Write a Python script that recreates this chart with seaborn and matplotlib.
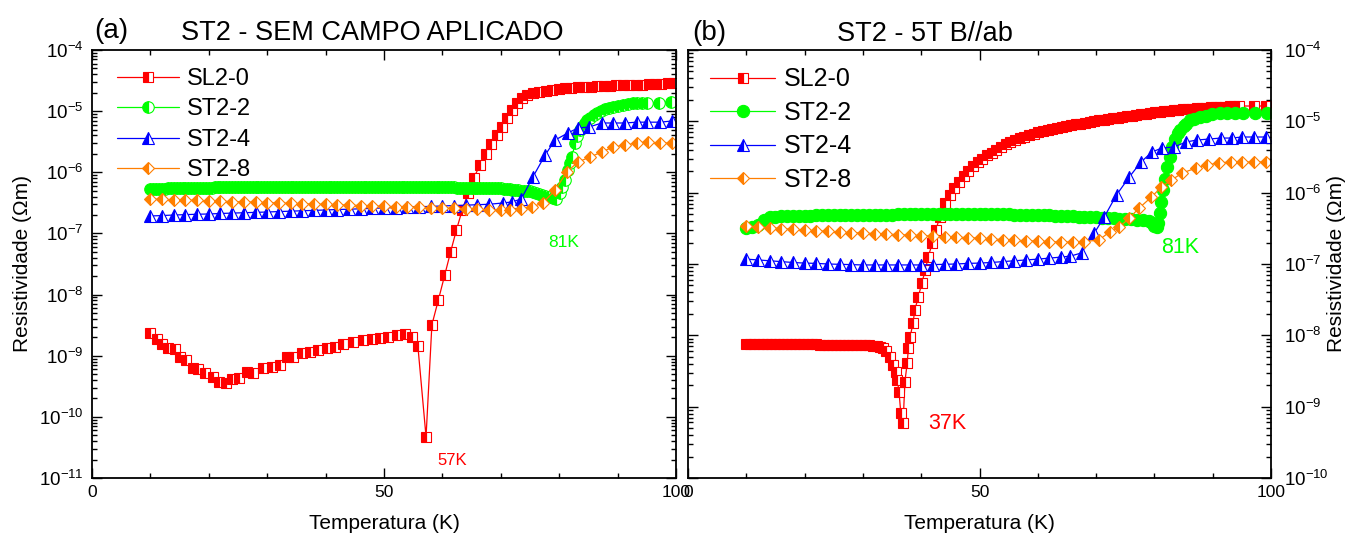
import numpy as np
import pandas as pd
import matplotlib
matplotlib.use("Agg")
import matplotlib.pyplot as plt
import seaborn as sns
from matplotlib.ticker import FixedLocator, LogLocator, MultipleLocator, NullFormatter

sns.set_theme(style="ticks")
plt.rcParams["font.family"] = ["Liberation Sans", "DejaVu Sans"]
plt.rcParams["mathtext.fontset"] = "custom"
plt.rcParams["mathtext.rm"] = "Liberation Sans"
plt.rcParams["mathtext.it"] = "Liberation Sans:italic"
plt.rcParams["mathtext.default"] = "regular"
for key in ("text.color", "axes.labelcolor", "xtick.color", "ytick.color", "axes.edgecolor"):
    plt.rcParams[key] = "black"

# ---------------- (a) no applied field ----------------
a_sl20_T = [9.9, 11.1, 12.0, 13.0, 14.2, 15.1, 16.1, 17.3, 18.2, 19.3, 20.7, 21.8, 22.9,
            24.0, 25.2, 26.5, 27.6, 29.3, 30.8, 32.2, 33.4, 34.4, 35.9, 37.3, 38.7, 40.2,
            41.6, 43.0, 44.7, 46.4, 47.9, 49.3, 50.7, 52.2, 53.6, 54.8, 55.8, 57.2, 58.2,
            59.3, 60.4, 61.4, 62.4, 63.4, 64.4, 65.4, 66.4, 67.4, 68.4, 69.3, 70.2, 71.1,
            71.9, 72.8, 73.6, 74.5, 75.5, 76.6, 77.7, 78.8, 79.9, 81.0, 82.1, 83.2, 84.3,
            85.4, 86.5, 87.6, 88.7, 89.8, 90.9, 92.0, 93.1, 94.2, 95.3, 96.4, 97.5, 98.6, 99.7]
a_sl20_rho = [2.35e-9, 1.87e-9, 1.55e-9, 1.34e-9, 1.29e-9, 9.5e-10, 8.5e-10, 6.3e-10, 6.1e-10,
              5.2e-10, 4.5e-10, 3.7e-10, 3.6e-10, 4.2e-10, 4.3e-10, 5.4e-10, 5.2e-10, 6.3e-10,
              6.5e-10, 7.0e-10, 9.5e-10, 9.5e-10, 1.11e-9, 1.15e-9, 1.24e-9, 1.34e-9, 1.39e-9,
              1.55e-9, 1.67e-9, 1.81e-9, 1.87e-9, 1.95e-9, 2.02e-9, 2.18e-9, 2.27e-9, 2.02e-9,
              1.44e-9, 4.7e-11, 3.2e-9, 8.1e-9, 2.09e-8, 4.97e-8, 1.14e-7, 2.42e-7, 4.58e-7,
              8.1e-7, 1.31e-6, 1.99e-6, 2.9e-6, 4.07e-6, 5.5e-6, 7.7e-6, 1.04e-5, 1.36e-5,
              1.64e-5, 1.84e-5, 1.98e-5, 2.08e-5, 2.16e-5, 2.23e-5, 2.29e-5, 2.36e-5, 2.40e-5,
              2.44e-5, 2.48e-5, 2.52e-5, 2.55e-5, 2.58e-5, 2.61e-5, 2.63e-5, 2.65e-5, 2.67e-5,
              2.69e-5, 2.72e-5, 2.75e-5, 2.78e-5, 2.81e-5, 2.85e-5, 2.89e-5]

a_st22_T = [10.0, 10.5, 11.0, 11.5, 12.0, 12.5, 13.0, 13.5, 14.0, 14.5, 15.0, 15.5, 16.0,
            16.5, 17.0, 17.5, 18.0, 18.5, 19.0, 19.5, 20.0, 20.5, 21.0, 21.5, 22.0, 22.5,
            23.0, 23.5, 24.0, 24.5, 25.0, 25.5, 26.0, 26.5, 27.0, 27.5, 28.0, 28.5, 29.0,
            29.5, 30.0, 30.5, 31.0, 31.5, 32.0, 32.5, 33.0, 33.5, 34.0, 34.5, 35.0, 35.5,
            36.0, 36.5, 37.0, 37.5, 38.0, 38.5, 39.0, 39.5, 40.0, 40.5, 41.0, 41.5, 42.0,
            42.5, 43.0, 43.5, 44.0, 44.5, 45.0, 45.5, 46.0, 46.5, 47.0, 47.5, 48.0, 48.5,
            49.0, 49.5, 50.0, 50.5, 51.0, 51.5, 52.0, 52.5, 53.0, 53.5, 54.0, 54.5, 55.0,
            55.5, 56.0, 56.5, 57.0, 57.5, 58.0, 58.5, 59.0, 59.5, 60.0, 60.5, 61.0, 61.5,
            62.0, 62.5, 63.0, 63.5, 64.0, 64.5, 65.0, 65.5, 66.0, 66.5, 67.0, 67.5, 68.0,
            68.5, 69.0, 69.5, 70.0, 70.5, 71.0, 71.5, 72.0, 72.5, 73.0, 73.5, 74.0, 74.5,
            75.0, 75.5, 76.0, 76.5, 77.0, 77.5, 78.0, 78.9, 79.5, 80.1, 80.5, 81.0, 81.5,
            81.9, 82.2, 82.7, 83.1, 83.6, 84.0, 84.4, 84.8, 85.3, 85.9, 86.5, 87.1, 87.8,
            88.5, 89.2, 90.0, 90.9, 91.7, 92.6, 93.4, 94.2, 95.0, 97.1, 99.1]
a_st22_rho = [5.30e-7, 5.32e-7, 5.35e-7, 5.37e-7, 5.40e-7, 5.42e-7, 5.45e-7, 5.47e-7, 5.50e-7,
              5.50e-7, 5.50e-7, 5.52e-7, 5.55e-7, 5.55e-7, 5.55e-7, 5.57e-7, 5.60e-7, 5.60e-7,
              5.60e-7, 5.60e-7, 5.60e-7, 5.62e-7, 5.65e-7, 5.65e-7, 5.65e-7, 5.65e-7, 5.65e-7,
              5.67e-7, 5.70e-7, 5.70e-7, 5.70e-7, 5.70e-7, 5.70e-7, 5.70e-7, 5.70e-7, 5.70e-7,
              5.70e-7, 5.70e-7, 5.70e-7, 5.70e-7, 5.70e-7, 5.70e-7, 5.70e-7, 5.70e-7, 5.70e-7,
              5.70e-7, 5.70e-7, 5.70e-7, 5.70e-7, 5.70e-7, 5.70e-7, 5.70e-7, 5.70e-7, 5.70e-7,
              5.70e-7, 5.70e-7, 5.70e-7, 5.70e-7, 5.70e-7, 5.70e-7, 5.70e-7, 5.70e-7, 5.70e-7,
              5.70e-7, 5.70e-7, 5.70e-7, 5.70e-7, 5.70e-7, 5.70e-7, 5.70e-7, 5.70e-7, 5.70e-7,
              5.70e-7, 5.70e-7, 5.70e-7, 5.70e-7, 5.70e-7, 5.70e-7, 5.70e-7, 5.70e-7, 5.70e-7,
              5.70e-7, 5.70e-7, 5.70e-7, 5.70e-7, 5.70e-7, 5.70e-7, 5.70e-7, 5.70e-7, 5.70e-7,
              5.70e-7, 5.70e-7, 5.70e-7, 5.70e-7, 5.70e-7, 5.70e-7, 5.70e-7, 5.70e-7, 5.70e-7,
              5.70e-7, 5.70e-7, 5.68e-7, 5.65e-7, 5.65e-7, 5.65e-7, 5.62e-7, 5.60e-7, 5.60e-7,
              5.60e-7, 5.60e-7, 5.60e-7, 5.57e-7, 5.55e-7, 5.55e-7, 5.55e-7, 5.52e-7, 5.50e-7,
              5.50e-7, 5.50e-7, 5.50e-7, 5.50e-7, 5.42e-7, 5.35e-7, 5.27e-7, 5.20e-7, 5.12e-7,
              5.05e-7, 5.00e-7, 4.95e-7, 4.92e-7, 4.90e-7, 4.75e-7, 4.60e-7, 4.45e-7, 4.30e-7,
              4.15e-7, 4.00e-7, 3.80e-7, 3.66e-7, 4.60e-7, 5.70e-7, 7.50e-7, 1.09e-6, 1.42e-6,
              1.78e-6, 3.00e-6, 3.92e-6, 4.90e-6, 5.70e-6, 6.40e-6, 7.16e-6, 7.70e-6, 8.65e-6,
              9.30e-6, 1.00e-5, 1.08e-5, 1.13e-5, 1.17e-5, 1.21e-5, 1.26e-5, 1.31e-5, 1.36e-5,
              1.36e-5, 1.36e-5, 1.36e-5, 1.36e-5, 1.41e-5]

a_st24_T = [10, 12, 14, 16, 18, 20, 22, 24, 26, 28, 30, 32, 34, 36, 38, 40, 42, 44, 46, 48,
            50, 52, 54, 56, 58, 60, 62, 64, 66, 68, 70.4, 71.9, 73.5, 75.5, 77.6, 79.3, 81.5,
            83.2, 85.1, 87.3, 89.2, 91.3, 93.3, 95.0, 97.3, 99.3]
a_st24_rho = [1.93e-7, 1.96e-7, 2.0e-7, 2.03e-7, 2.06e-7, 2.08e-7, 2.12e-7, 2.15e-7, 2.18e-7,
              2.21e-7, 2.24e-7, 2.28e-7, 2.31e-7, 2.35e-7, 2.38e-7, 2.42e-7, 2.46e-7, 2.49e-7,
              2.53e-7, 2.57e-7, 2.61e-7, 2.65e-7, 2.69e-7, 2.73e-7, 2.77e-7, 2.81e-7, 2.86e-7,
              2.9e-7, 2.95e-7, 3.0e-7, 3.15e-7, 3.27e-7, 3.66e-7, 8.4e-7, 1.92e-6, 3.37e-6,
              4.4e-6, 5.3e-6, 5.5e-6, 6.4e-6, 6.4e-6, 6.4e-6, 6.6e-6, 6.6e-6, 6.6e-6, 6.9e-6]

a_st28_T = [10, 12, 14, 16, 18, 20, 22, 24, 26, 28, 30, 32, 34, 36, 38, 40, 42, 44, 46, 48,
            50, 52, 54, 56, 58, 60, 62, 64, 66, 68, 70, 71.6, 73.4, 75.3, 77.2, 79.3, 81.3,
            83.2, 85.3, 87.3, 89.2, 91.3, 93.3, 95.2, 97.3, 99.3]
a_st28_rho = [3.66e-7, 3.61e-7, 3.56e-7, 3.51e-7, 3.46e-7, 3.41e-7, 3.37e-7, 3.32e-7, 3.28e-7,
              3.23e-7, 3.19e-7, 3.14e-7, 3.1e-7, 3.06e-7, 3.02e-7, 2.98e-7, 2.94e-7, 2.9e-7,
              2.86e-7, 2.82e-7, 2.78e-7, 2.74e-7, 2.7e-7, 2.67e-7, 2.63e-7, 2.59e-7, 2.56e-7,
              2.52e-7, 2.49e-7, 2.45e-7, 2.42e-7, 2.45e-7, 2.55e-7, 2.7e-7, 3.15e-7, 5.1e-7,
              1.01e-6, 1.47e-6, 1.78e-6, 2.15e-6, 2.59e-6, 2.79e-6, 3.01e-6, 3.13e-6, 3.01e-6,
              3.01e-6]

# ---------------- (b) 5 T, B // ab ----------------
b_sl20_T = [10.0, 10.7, 11.4, 12.1, 12.8, 13.5, 14.2, 14.9, 15.6, 16.3, 17.0, 17.7, 18.4,
            19.1, 19.8, 20.5, 21.2, 21.9, 22.6, 23.3, 24.0, 24.7, 25.4, 26.1, 26.8, 27.5,
            28.2, 28.9, 29.6, 30.3, 31.0, 31.7, 32.4, 33.0, 33.5, 34.0, 34.6, 35.2, 35.6,
            35.9, 36.2, 36.5, 36.9, 37.2, 37.6, 37.8, 38.1, 38.6, 38.9, 39.5, 40.1, 40.7,
            41.2, 41.9, 42.5, 43.2, 44.1, 44.9, 45.7, 46.5, 47.3, 48.1, 48.9, 49.7, 50.5,
            51.3, 52.1, 52.9, 53.7, 54.5, 55.3, 56.1, 56.9, 57.7, 58.5, 59.3, 60.1, 60.9,
            61.7, 62.5, 63.3, 64.1, 64.9, 65.7, 66.5, 67.3, 68.1, 68.9, 69.7, 70.5, 71.3,
            72.1, 72.9, 73.7, 74.5, 75.3, 76.1, 76.9, 77.7, 78.5, 79.3, 80.1, 80.9, 81.7,
            82.5, 83.3, 84.1, 84.9, 85.7, 86.5, 87.3, 88.1, 88.9, 89.7, 90.5, 91.3, 92.1,
            92.9, 93.7, 94.5, 97.1, 99.1]
b_sl20_rho = [7.6e-9, 7.6e-9, 7.6e-9, 7.6e-9, 7.58e-9, 7.56e-9, 7.55e-9, 7.55e-9, 7.53e-9,
              7.52e-9, 7.5e-9, 7.5e-9, 7.5e-9, 7.48e-9, 7.47e-9, 7.46e-9, 7.45e-9, 7.44e-9,
              7.43e-9, 7.42e-9, 7.4e-9, 7.4e-9, 7.38e-9, 7.36e-9, 7.35e-9, 7.33e-9, 7.32e-9,
              7.3e-9, 7.28e-9, 7.26e-9, 7.24e-9, 7.2e-9, 7.1e-9, 6.9e-9, 6.6e-9, 6.0e-9,
              5.0e-9, 3.9e-9, 3.1e-9, 2.4e-9, 1.6e-9, 8.1e-10, 5.9e-10, 2.22e-9, 4.09e-9,
              6.6e-9, 9.5e-9, 1.49e-8, 2.26e-8, 3.44e-8, 5.4e-8, 8.2e-8, 1.25e-7, 1.97e-7,
              3.0e-7, 4.56e-7, 7.2e-7, 9.3e-7, 1.15e-6, 1.42e-6, 1.72e-6, 2.04e-6, 2.36e-6,
              2.68e-6, 3.0e-6, 3.32e-6, 3.64e-6, 3.96e-6, 4.35e-6, 4.75e-6, 5.12e-6, 5.44e-6,
              5.76e-6, 6.08e-6, 6.4e-6, 6.72e-6, 7.04e-6, 7.36e-6, 7.61e-6, 7.85e-6, 8.09e-6,
              8.33e-6, 8.57e-6, 8.81e-6, 9.05e-6, 9.29e-6, 9.53e-6, 9.77e-6, 9.98e-6, 1.03e-5,
              1.06e-5, 1.08e-5, 1.11e-5, 1.13e-5, 1.16e-5, 1.18e-5, 1.2e-5, 1.23e-5, 1.25e-5,
              1.28e-5, 1.31e-5, 1.33e-5, 1.36e-5, 1.38e-5, 1.41e-5, 1.43e-5, 1.45e-5, 1.48e-5,
              1.49e-5, 1.51e-5, 1.53e-5, 1.54e-5, 1.56e-5, 1.57e-5, 1.59e-5, 1.6e-5, 1.61e-5,
              1.62e-5, 1.63e-5, 1.64e-5, 1.64e-5, 1.64e-5]

b_st22_T = [10, 11, 12, 13, 14, 15, 16, 17, 18, 19, 20, 21, 22, 23, 24, 25, 26, 27, 28, 29,
            30, 31, 32, 33, 34, 35, 36, 37, 38, 39, 40, 41, 42, 43, 44, 45, 46, 47, 48, 49,
            50, 51, 52, 53, 54, 55, 56, 57, 58, 59, 60, 61, 62, 63, 64, 65, 66, 67, 68, 69,
            70, 71, 72, 73, 74, 75, 76, 77, 78, 79, 79.6, 80.0, 80.4, 80.7, 80.9, 81.2, 81.5,
            81.8, 82.2, 82.6, 83.0, 83.5, 84.0, 84.4, 85.0, 85.5, 86.1, 86.8, 87.8, 88.8,
            89.8, 91.3, 92.5, 93.8, 95.2, 97.3, 99.3]
b_st22_rho = [3.2e-7, 3.3e-7, 3.5e-7, 4.1e-7, 4.5e-7, 4.6e-7, 4.65e-7, 4.7e-7, 4.72e-7,
              4.74e-7, 4.76e-7, 4.78e-7, 4.8e-7, 4.81e-7, 4.82e-7, 4.83e-7, 4.84e-7, 4.86e-7,
              4.87e-7, 4.88e-7, 4.89e-7, 4.9e-7, 4.91e-7, 4.92e-7, 4.93e-7, 4.94e-7, 4.95e-7,
              4.96e-7, 4.96e-7, 4.97e-7, 4.97e-7, 4.98e-7, 4.98e-7, 4.99e-7, 4.99e-7, 5.0e-7,
              5.0e-7, 5.0e-7, 5.0e-7, 5.0e-7, 5.0e-7, 4.99e-7, 4.98e-7, 4.97e-7, 4.96e-7,
              4.95e-7, 4.93e-7, 4.91e-7, 4.89e-7, 4.87e-7, 4.85e-7, 4.82e-7, 4.79e-7, 4.76e-7,
              4.73e-7, 4.7e-7, 4.66e-7, 4.62e-7, 4.58e-7, 4.54e-7, 4.5e-7, 4.46e-7, 4.41e-7,
              4.36e-7, 4.31e-7, 4.26e-7, 4.21e-7, 4.16e-7, 4.1e-7, 4.0e-7, 3.7e-7, 3.45e-7,
              3.3e-7, 3.8e-7, 5.19e-7, 7.5e-7, 1.09e-6, 1.55e-6, 2.29e-6, 3.2e-6, 4.37e-6,
              5.6e-6, 6.8e-6, 7.55e-6, 8.5e-6, 9.3e-6, 1.04e-5, 1.09e-5, 1.15e-5, 1.2e-5,
              1.25e-5, 1.31e-5, 1.31e-5, 1.31e-5, 1.31e-5, 1.31e-5, 1.31e-5]

b_st24_T = [10, 12, 14, 16, 18, 20, 22, 24, 26, 28, 30, 32, 34, 36, 38, 40, 42, 44, 46, 48,
            50, 52, 54, 56, 58, 60, 62, 64, 65.6, 67.5, 69.7, 71.4, 73.5, 75.7, 77.7, 79.6,
            81.3, 83.4, 85.4, 87.3, 89.4, 91.4, 93.3, 95.0, 97.1, 99.1]
b_st24_rho = [1.17e-7, 1.14e-7, 1.11e-7, 1.08e-7, 1.05e-7, 1.03e-7, 1.02e-7, 1.0e-7, 9.9e-8,
              9.8e-8, 9.7e-8, 9.7e-8, 9.7e-8, 9.7e-8, 9.7e-8, 9.7e-8, 9.8e-8, 9.9e-8, 1.0e-7,
              1.02e-7, 1.03e-7, 1.05e-7, 1.08e-7, 1.11e-7, 1.14e-7, 1.17e-7, 1.21e-7, 1.25e-7,
              1.29e-7, 1.43e-7, 2.72e-7, 4.56e-7, 9.3e-7, 1.66e-6, 2.69e-6, 3.72e-6, 4.23e-6,
              4.37e-6, 5.13e-6, 5.47e-6, 5.65e-6, 5.83e-6, 5.83e-6, 6.03e-6, 6.03e-6, 6.03e-6]

b_st28_T = [10, 12, 14, 16, 18, 20, 22, 24, 26, 28, 30, 32, 34, 36, 38, 40, 42, 44, 46, 48,
            50, 52, 54, 56, 58, 60, 62, 64, 66, 68, 70.5, 72.3, 74.0, 75.7, 77.4, 79.5, 81.2,
            82.9, 84.8, 87.2, 89.0, 91.1, 93.2, 95.0, 97.1, 99.1]
b_st28_rho = [3.41e-7, 3.31e-7, 3.22e-7, 3.14e-7, 3.06e-7, 2.99e-7, 2.92e-7, 2.86e-7, 2.8e-7,
              2.75e-7, 2.72e-7, 2.67e-7, 2.62e-7, 2.58e-7, 2.54e-7, 2.5e-7, 2.46e-7, 2.42e-7,
              2.38e-7, 2.34e-7, 2.3e-7, 2.24e-7, 2.2e-7, 2.16e-7, 2.12e-7, 2.09e-7, 2.06e-7,
              2.03e-7, 2.03e-7, 2.06e-7, 2.17e-7, 2.81e-7, 3.3e-7, 4.41e-7, 6.1e-7, 8.7e-7,
              1.2e-6, 1.5e-6, 1.89e-6, 2.22e-6, 2.44e-6, 2.61e-6, 2.69e-6, 2.69e-6, 2.69e-6,
              2.69e-6]

labels = ["SL2-0", "ST2-2", "ST2-4", "ST2-8"]
colors = ["#ff0000", "#00ff00", "#0000ff", "#ff7f00"]
RED, GREEN, BLUE, ORANGE = colors

fig = plt.figure(figsize=(13.47, 5.43), dpi=100)
W, H = 1347, 543
ax_a = fig.add_axes([92 / W, 1 - 478 / H, 584 / W, 428 / H])
ax_b = fig.add_axes([688 / W, 1 - 478 / H, 583 / W, 428 / H])


def draw(ax, T, rho, color, marker, label, ms, half=True):
    df = pd.DataFrame({"T": T, "rho": rho})
    if half:
        # white right halves go down first, coloured left halves are stacked on top,
        # so densely sampled stretches read as a solid coloured band
        style = dict(fillstyle="right", markerfacecolor="white", markerfacecoloralt=color)
    else:
        style = dict(fillstyle="full", markerfacecolor=color)
    sns.lineplot(data=df, x="T", y="rho", ax=ax, color=color, lw=0.9,
                 marker=marker, markersize=ms, markeredgecolor=color,
                 markeredgewidth=0.8, label=label, estimator=None, sort=False, **style)


draw(ax_a, a_sl20_T, a_sl20_rho, RED, "s", labels[0], 7.0)
draw(ax_a, a_st22_T, a_st22_rho, GREEN, "o", labels[1], 8.3)
draw(ax_a, a_st24_T, a_st24_rho, BLUE, "^", labels[2], 8.5)
draw(ax_a, a_st28_T, a_st28_rho, ORANGE, "D", labels[3], 6.6)

draw(ax_b, b_sl20_T, b_sl20_rho, RED, "s", labels[0], 7.2)
draw(ax_b, b_st22_T, b_st22_rho, GREEN, "o", labels[1], 8.8, half=False)
draw(ax_b, b_st24_T, b_st24_rho, BLUE, "^", labels[2], 8.2)
draw(ax_b, b_st28_T, b_st28_rho, ORANGE, "D", labels[3], 6.6)

for ax, lo_exp in ((ax_a, -11), (ax_b, -10)):
    ax.set_yscale("log")
    ax.set_ylim(10.0 ** lo_exp, 1e-4)
    ax.set_xlim(0, 100)
    ax.xaxis.set_major_locator(MultipleLocator(50))
    ax.xaxis.set_minor_locator(MultipleLocator(10))
    ax.yaxis.set_major_locator(FixedLocator(10.0 ** np.arange(lo_exp, -3)))
    ax.yaxis.set_minor_locator(LogLocator(base=10, subs=np.arange(2, 10), numticks=20))
    ax.yaxis.set_minor_formatter(NullFormatter())
    ax.tick_params(which="both", direction="in", top=True, right=True, left=True,
                   bottom=True, width=1.0, color="black", labelcolor="black")
    ax.tick_params(which="major", length=7)
    ax.tick_params(which="minor", length=3.5)
    ax.tick_params(axis="x", labelsize=12.5, pad=5)
    ax.tick_params(axis="y", labelsize=13.5, pad=6)
    for s in ax.spines.values():
        s.set_color("black")
        s.set_linewidth(1.3)
    ax.set_xlabel("Temperatura (K)", fontsize=15)
    ax.set_ylabel("Resistividade (\u03a9m)", fontsize=15)
    ax.xaxis.set_label_coords(0.5, -0.085)

ax_a.yaxis.set_label_coords(-0.103, 0.5)
ax_b.tick_params(axis="y", labelleft=False, labelright=True, pad=9)
ax_b.yaxis.set_label_position("right")
ax_b.yaxis.set_label_coords(1.096, 0.5)

ax_a.legend(loc="upper left", bbox_to_anchor=(0.035, 0.969), frameon=False, fontsize=17,
            handlelength=2.6, handletextpad=0.35, labelspacing=0.36, borderaxespad=0,
            borderpad=0.2)
ax_b.legend(loc="upper left", bbox_to_anchor=(0.03, 0.971), frameon=False, fontsize=18,
            handlelength=2.6, handletextpad=0.35, labelspacing=0.38, borderaxespad=0,
            borderpad=0.2)

# transition temperatures
ax_a.text(61.6, 1.9e-11, "57K", color=RED, fontsize=12, ha="center", va="center")
ax_a.text(80.7, 7.0e-8, "81K", color=GREEN, fontsize=12.5, ha="center", va="center")
ax_b.text(44.4, 5.9e-10, "37K", color=RED, fontsize=15.5, ha="center", va="center")
ax_b.text(84.4, 1.73e-7, "81K", color=GREEN, fontsize=15.5, ha="center", va="center")

fig.text(111 / W, 1 - 31 / H, "(a)", fontsize=20, ha="center", va="center")
fig.text(372 / W, 1 - 33 / H, "ST2 - SEM CAMPO APLICADO", fontsize=19.5,
         ha="center", va="center")
fig.text(709 / W, 1 - 33 / H, "(b)", fontsize=20, ha="center", va="center")
fig.text(925 / W, 1 - 34 / H, "ST2 - 5T B//ab", fontsize=19.5, ha="center", va="center")

fig.savefig("out.png", dpi=100)
